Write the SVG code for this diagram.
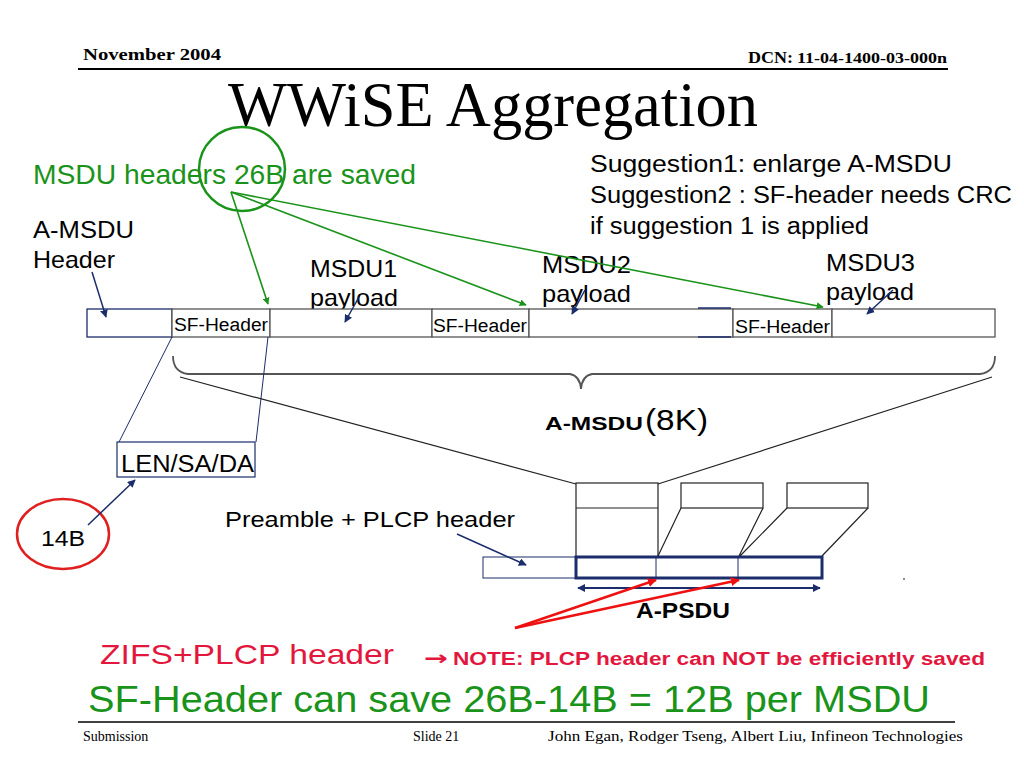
<svg xmlns="http://www.w3.org/2000/svg" width="1024" height="768" viewBox="0 0 1024 768">
<defs>
<style>
.serif{font-family:"Liberation Serif","Times New Roman",serif}
.sans{font-family:"Liberation Sans",Arial,sans-serif}
.nv{stroke:#1b2d6b;fill:none}
.gr{stroke:#1a931a;fill:none;stroke-width:1.6}
.rd{stroke:#ee1111;fill:none;stroke-width:2.5}
.box{fill:#fff;stroke:#555;stroke-width:1.3}
</style>
<marker id="ag" viewBox="0 0 10 10" refX="9" refY="5" markerWidth="7" markerHeight="7" orient="auto" markerUnits="userSpaceOnUse"><path d="M0,0 L10,5 L0,10 z" fill="#1a931a"/></marker>
<marker id="an" viewBox="0 0 10 10" refX="9" refY="5" markerWidth="8" markerHeight="8" orient="auto" markerUnits="userSpaceOnUse"><path d="M0,0 L10,5 L0,10 z" fill="#1b2d6b"/></marker>
<marker id="anr" viewBox="0 0 10 10" refX="1" refY="5" markerWidth="8" markerHeight="8" orient="auto" markerUnits="userSpaceOnUse"><path d="M10,0 L0,5 L10,10 z" fill="#1b2d6b"/></marker>
<marker id="ar" viewBox="0 0 10 10" refX="9" refY="5" markerWidth="9" markerHeight="9" orient="auto" markerUnits="userSpaceOnUse"><path d="M0,0 L10,5 L0,10 z" fill="#ee1111"/></marker>
</defs>
<rect width="1024" height="768" fill="#fff"/>

<g id="header">
<text x="83" y="60" class="serif" font-weight="bold" font-size="16" textLength="138" lengthAdjust="spacingAndGlyphs">November 2004</text>
<text x="748" y="63" class="serif" font-weight="bold" font-size="17" textLength="45" lengthAdjust="spacingAndGlyphs">DCN:</text>
<text x="797" y="63" class="serif" font-weight="bold" font-size="14" textLength="150" lengthAdjust="spacingAndGlyphs">11-04-1400-03-000n</text>
<line x1="78" y1="69" x2="948" y2="69" stroke="#000" stroke-width="2"/>
<text x="228" y="126" class="serif" font-size="64" textLength="530" lengthAdjust="spacingAndGlyphs">WWiSE Aggregation</text>
</g>

<g id="saved-note">
<ellipse cx="242" cy="169" rx="43" ry="42" fill="none" stroke="#1a931a" stroke-width="2.5"/>
<text x="33" y="184" class="sans" font-size="27" fill="#1a931a" textLength="383" lengthAdjust="spacingAndGlyphs">MSDU headers 26B are saved</text>
</g>

<g id="suggestions" class="sans" font-size="23">
<text x="590" y="172" textLength="362" lengthAdjust="spacingAndGlyphs">Suggestion1: enlarge A-MSDU</text>
<text x="590" y="203" textLength="422" lengthAdjust="spacingAndGlyphs">Suggestion2 : SF-header needs CRC</text>
<text x="590" y="234" textLength="279" lengthAdjust="spacingAndGlyphs">if suggestion 1 is applied</text>
</g>

<g id="labels" class="sans" font-size="24">
<text x="33" y="238" textLength="101" lengthAdjust="spacingAndGlyphs">A-MSDU</text>
<text x="33" y="268" textLength="82" lengthAdjust="spacingAndGlyphs">Header</text>
<text x="310" y="277" textLength="87" lengthAdjust="spacingAndGlyphs">MSDU1</text>
<text x="310" y="306" textLength="88" lengthAdjust="spacingAndGlyphs">payload</text>
<text x="542" y="273" textLength="89" lengthAdjust="spacingAndGlyphs">MSDU2</text>
<text x="542" y="302" textLength="89" lengthAdjust="spacingAndGlyphs">payload</text>
<text x="826" y="271" textLength="89" lengthAdjust="spacingAndGlyphs">MSDU3</text>
<text x="826" y="300" textLength="88" lengthAdjust="spacingAndGlyphs">payload</text>
</g>

<g id="amsdu-bar">
<rect x="87" y="309" width="85" height="28" fill="#fff" stroke="#1b2d6b" stroke-width="1.3"/>
<rect x="172" y="309" width="98" height="28" class="box"/>
<rect x="270" y="309" width="162" height="28" class="box"/>
<rect x="432" y="309" width="97" height="28" class="box"/>
<rect x="529" y="309" width="204" height="28" class="box"/>
<rect x="733" y="309" width="99" height="28" class="box"/>
<rect x="832" y="309" width="163" height="28" class="box"/>
<line x1="698" y1="308" x2="731" y2="308" stroke="#1b2d6b" stroke-width="1.3"/>
<line x1="698" y1="337" x2="731" y2="337" stroke="#1b2d6b" stroke-width="1.3"/>
<g class="sans" font-size="18">
<text x="174" y="331" textLength="94" lengthAdjust="spacingAndGlyphs">SF-Header</text>
<text x="433" y="332" textLength="94" lengthAdjust="spacingAndGlyphs">SF-Header</text>
<text x="735" y="333" textLength="95" lengthAdjust="spacingAndGlyphs">SF-Header</text>
</g>
</g>

<g id="brace">
<path d="M173,356 Q173,372 188,374 L570,374 Q580,376 581,389 Q582,376 592,374 L980,374 Q995,372 995,356" fill="none" stroke="#555" stroke-width="1.8"/>
<text x="545" y="430" class="sans" font-size="19" font-weight="bold" textLength="98" lengthAdjust="spacingAndGlyphs">A-MSDU</text>
<text x="645" y="430" class="sans" font-size="30" textLength="63" lengthAdjust="spacingAndGlyphs">(8K)</text>
</g>

<g id="len-box">
<rect x="117" y="442" width="138" height="35" fill="#fff" stroke="#1b2d6b" stroke-width="1.2"/>
<text x="121" y="472" class="sans" font-size="23" textLength="133" lengthAdjust="spacingAndGlyphs">LEN/SA/DA</text>
</g>

<g id="b14">
<ellipse cx="63" cy="534" rx="46" ry="35" fill="none" stroke="#e02020" stroke-width="2.5"/>
<text x="41" y="546" class="sans" font-size="22" textLength="44" lengthAdjust="spacingAndGlyphs">14B</text>
</g>

<g id="preamble-label">
<text x="225" y="527" class="sans" font-size="22" textLength="290" lengthAdjust="spacingAndGlyphs">Preamble + PLCP header</text>
</g>

<g id="psdu">
<rect x="576" y="483" width="82" height="74" fill="#fff" stroke="#222" stroke-width="1.2"/>
<line x1="576" y1="508" x2="658" y2="508" stroke="#222" stroke-width="1.2"/>
<rect x="681" y="483" width="82" height="25" fill="#fff" stroke="#222" stroke-width="1.2"/>
<rect x="787" y="483" width="81" height="25" fill="#fff" stroke="#222" stroke-width="1.2"/>
<path d="M681,508 L658,556 M763,508 L739,556 M787,508 L740,556 M868,508 L822,556" stroke="#222" stroke-width="1.2" fill="none"/>
<rect x="483" y="557" width="93" height="21" fill="#fff" stroke="#1b2d6b" stroke-width="1"/>
<rect x="576" y="557" width="246" height="21" fill="#fff" stroke="#1b2d6b" stroke-width="3"/>
<line x1="656" y1="557" x2="656" y2="578" stroke="#1b2d6b" stroke-width="1"/>
<line x1="738" y1="557" x2="738" y2="578" stroke="#1b2d6b" stroke-width="1"/>
<circle cx="904" cy="579" r="1" fill="#666"/>
<text x="636" y="618" class="sans" font-size="22" font-weight="bold" textLength="94" lengthAdjust="spacingAndGlyphs">A-PSDU</text>
</g>

<g id="connectors">
<path class="gr" d="M231,192 L268,304" marker-end="url(#ag)"/>
<path class="gr" d="M231,192 L526,305" marker-end="url(#ag)"/>
<path class="gr" d="M231,192 L823,307" marker-end="url(#ag)"/>
<path class="nv" stroke-width="1.5" d="M92,272 L106,317" marker-end="url(#an)"/>
<path class="nv" stroke-width="1.5" d="M359,297 L345,322" marker-end="url(#an)"/>
<path class="nv" stroke-width="1.5" d="M585,290 L572,314" marker-end="url(#an)"/>
<path class="nv" stroke-width="1.5" d="M893,290 L867,314" marker-end="url(#an)"/>
<path class="nv" stroke-width="1" d="M172,337 L119,442 M268,337 L256,442"/>
<path stroke="#222" stroke-width="1.2" fill="none" d="M180,377 L576,484 M992,377 L658,484"/>
<path class="nv" stroke-width="1.5" d="M88,525 L135,480" marker-end="url(#an)"/>
<path class="nv" stroke-width="1.5" d="M457,534 L526,565" marker-end="url(#an)"/>
<path class="nv" stroke-width="2.2" d="M578,588 L820,588" marker-start="url(#anr)" marker-end="url(#an)"/>
<path class="rd" d="M515,628 L656,580" marker-end="url(#ar)"/>
<path class="rd" d="M515,628 L739,580" marker-end="url(#ar)"/>
</g>

<g id="bottom-notes">
<text x="100" y="664" class="sans" font-size="28" fill="#e3173e" textLength="294" lengthAdjust="spacingAndGlyphs">ZIFS+PLCP header</text>
<text x="424" y="665" font-family="'DejaVu Sans',sans-serif" font-size="20" font-weight="bold" fill="#e3173e" textLength="24" lengthAdjust="spacingAndGlyphs">→</text>
<text x="453" y="665" class="sans" font-size="18" font-weight="bold" fill="#e3173e" textLength="532" lengthAdjust="spacingAndGlyphs">NOTE: PLCP header can NOT be efficiently saved</text>
<text x="88" y="712" class="sans" font-size="36" fill="#1a931a" textLength="842" lengthAdjust="spacingAndGlyphs">SF-Header can save 26B-14B = 12B per MSDU</text>
</g>

<g id="footer" class="serif" font-size="14">
<line x1="78" y1="722" x2="955" y2="722" stroke="#000" stroke-width="1.3"/>
<text x="83" y="741">Submission</text>
<text x="413" y="741">Slide 21</text>
<text x="548" y="741" textLength="415" lengthAdjust="spacingAndGlyphs">John Egan, Rodger Tseng, Albert Liu, Infineon Technologies</text>
</g>
</svg>
